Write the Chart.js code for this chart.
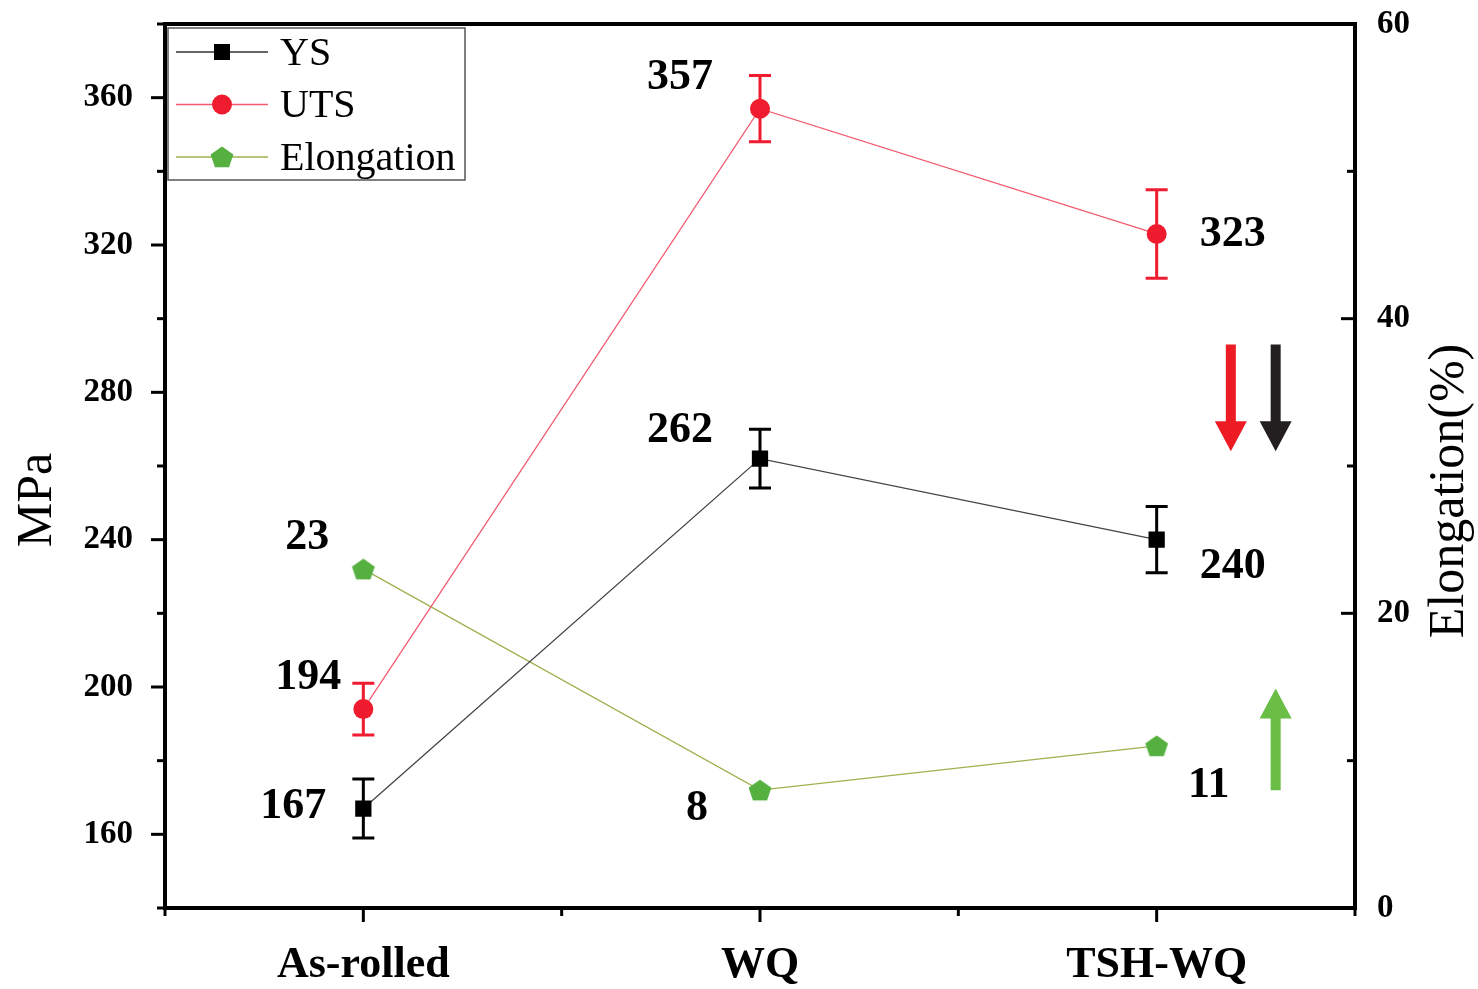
<!DOCTYPE html>
<html>
<head>
<meta charset="utf-8">
<script src="https://cdn.jsdelivr.net/npm/chart.js@4/dist/chart.umd.min.js"></script>
<style>
  html, body { margin: 0; padding: 0; background: #fff; }
  canvas { display: block; }
</style>
</head>
<body>
<canvas id="mech" width="1478" height="989"></canvas>
<script>
(function () {

// -------------------------------------------------------------------------------------------------------
// data

var categories = ["As-rolled", "WQ", "TSH-WQ"];
var ysValues   = [167, 262, 240];
var ysErrors   = [8, 8, 9];
var utsValues  = [194, 357, 323];
var utsErrors  = [7, 9, 12];
var elValues   = [23, 8, 11];

var leftTicks  = [160, 200, 240, 280, 320, 360];
var rightTicks = [0, 20, 40, 60];

// value label offsets (px from the point)
var ysLabelOff  = [[-70, -2], [-80, -28], [76, 27]];
var utsLabelOff = [[-55, -31], [-80, -31], [76, 1]];
var elLabelOff  = [[-56, -31], [-63, 19], [52, 40]];

// trend arrows: [series axis, category, fraction of category width, from value, to value, color]
var arrows = [
    ["y",  2, 0.187, 293, 264, "#ed1c24"],
    ["y",  2, 0.30,  293, 264, "#231f20"],
    ["y1", 2, 0.30,  8.0, 14.9, "#6abd45"]
];

var SERIF = "'Liberation Serif', 'Times New Roman', serif";

// -------------------------------------------------------------------------------------------------------

function pentagon(r, fill) {
    var c = document.createElement("canvas");
    c.width = c.height = r * 2 + 2;
    var g = c.getContext("2d");
    g.beginPath();
    for (var i = 0; i < 5; i++) {
        var a = -Math.PI / 2 + i * 2 * Math.PI / 5;
        var px = r + 1 + r * Math.cos(a), py = r + 1 + r * Math.sin(a) * 0.95 + 1;
        if (i === 0) g.moveTo(px, py); else g.lineTo(px, py);
    }
    g.closePath();
    g.fillStyle = fill;
    g.fill();
    return c;
}

var pentaImg = pentagon(12, "#55b040");

function noPad(s) {
    s.paddingTop = 0;
    s.paddingBottom = 0;
}

var framePlugin = {
    id: "frame",
    afterDraw: function (chart) {
        var ctx = chart.ctx, a = chart.chartArea;
        var x = chart.scales.x, y = chart.scales.y, y1 = chart.scales.y1;
        ctx.save();

        // error bars
        function errBars(vals, errs, color) {
            ctx.strokeStyle = color;
            ctx.lineWidth = 3;
            for (var i = 0; i < vals.length; i++) {
                var px = x.getPixelForValue(i);
                var t = y.getPixelForValue(vals[i] + errs[i]);
                var b = y.getPixelForValue(vals[i] - errs[i]);
                ctx.beginPath();
                ctx.moveTo(px, t); ctx.lineTo(px, b);
                ctx.moveTo(px - 11, t); ctx.lineTo(px + 11, t);
                ctx.moveTo(px - 11, b); ctx.lineTo(px + 11, b);
                ctx.stroke();
            }
        }
        errBars(utsValues, utsErrors, "#ee1c2e");
        errBars(ysValues, ysErrors, "#000");

        // frame
        ctx.fillStyle = "#000";
        ctx.fillRect(a.left - 2, a.top - 2, a.right - a.left + 4, 4);
        ctx.fillRect(a.left - 2, a.bottom - 2, a.right - a.left + 4, 4);
        ctx.fillRect(a.left - 2, a.top - 2, 4, a.bottom - a.top + 4);
        ctx.fillRect(a.right - 2, a.top - 2, 4, a.bottom - a.top + 4);

        // left ticks (outward)
        ctx.strokeStyle = "#000";
        ctx.lineWidth = 3;
        y.ticks.forEach(function (t) {
            var py = y.getPixelForValue(t.value);
            var len = (t.value % 40 === 0) ? 14 : 8;
            ctx.beginPath(); ctx.moveTo(a.left, py); ctx.lineTo(a.left - len, py); ctx.stroke();
        });
        // right ticks (inward)
        y1.ticks.forEach(function (t) {
            var py = y1.getPixelForValue(t.value);
            var len = (t.value % 20 === 0) ? 14 : 8;
            ctx.beginPath(); ctx.moveTo(a.right, py); ctx.lineTo(a.right - len, py); ctx.stroke();
        });
        // bottom ticks (outward)
        var half = (x.getPixelForValue(1) - x.getPixelForValue(0)) / 2;
        for (var i = 0; i < categories.length; i++) {
            var px = x.getPixelForValue(i);
            ctx.beginPath(); ctx.moveTo(px, a.bottom); ctx.lineTo(px, a.bottom + 14); ctx.stroke();
            ctx.beginPath(); ctx.moveTo(px - half, a.bottom); ctx.lineTo(px - half, a.bottom + 8); ctx.stroke();
            if (i === categories.length - 1) {
                ctx.beginPath(); ctx.moveTo(px + half, a.bottom); ctx.lineTo(px + half, a.bottom + 8); ctx.stroke();
            }
        }

        // value labels
        ctx.fillStyle = "#000";
        ctx.font = "bold 44px " + SERIF;
        ctx.textAlign = "center";
        ctx.textBaseline = "middle";
        function labels(vals, offs, scale) {
            for (var i = 0; i < vals.length; i++) {
                ctx.fillText(String(vals[i]),
                    x.getPixelForValue(i) + offs[i][0],
                    scale.getPixelForValue(vals[i]) + offs[i][1]);
            }
        }
        labels(ysValues, ysLabelOff, y);
        labels(utsValues, utsLabelOff, y);
        labels(elValues, elLabelOff, y1);

        // arrows
        var cw = x.getPixelForValue(1) - x.getPixelForValue(0);
        arrows.forEach(function (ar) {
            var sc = chart.scales[ar[0]];
            var ax = x.getPixelForValue(ar[1]) + ar[2] * cw;
            var y0 = sc.getPixelForValue(ar[3]), yE = sc.getPixelForValue(ar[4]);
            var dir = yE > y0 ? 1 : -1;
            var headLen = 30, headW = 16, shaft = 5;
            ctx.fillStyle = ar[5];
            ctx.beginPath();
            ctx.moveTo(ax - shaft, y0);
            ctx.lineTo(ax + shaft, y0);
            ctx.lineTo(ax + shaft, yE - dir * headLen);
            ctx.lineTo(ax + headW, yE - dir * headLen);
            ctx.lineTo(ax, yE);
            ctx.lineTo(ax - headW, yE - dir * headLen);
            ctx.lineTo(ax - shaft, yE - dir * headLen);
            ctx.closePath();
            ctx.fill();
        });

        // axis titles (bottom to top)
        ctx.fillStyle = "#000";
        ctx.font = "50px " + SERIF;
        ctx.save();
        ctx.translate(38, 500);
        ctx.rotate(-Math.PI / 2);
        ctx.fillText("MPa", 0, 0);
        ctx.restore();
        ctx.save();
        ctx.translate(1450, 491);
        ctx.rotate(-Math.PI / 2);
        ctx.fillText("Elongation(%)", 0, 0);
        ctx.restore();

        // legend
        ctx.lineWidth = 1.5;
        ctx.strokeStyle = "#555";
        ctx.strokeRect(168, 28, 297, 152);
        var items = [
            ["YS", "#333", "rect"],
            ["UTS", "#f25a70", "circle"],
            ["Elongation", "#9fb04e", "penta"]
        ];
        ctx.textAlign = "left";
        ctx.font = "40px " + SERIF;
        items.forEach(function (it, k) {
            var ly = 52 + k * 52.5;
            ctx.strokeStyle = it[1];
            ctx.lineWidth = 1.5;
            ctx.beginPath(); ctx.moveTo(176, ly); ctx.lineTo(268, ly); ctx.stroke();
            if (it[2] === "rect") {
                ctx.fillStyle = "#000";
                ctx.fillRect(214, ly - 8, 16, 16);
            } else if (it[2] === "circle") {
                ctx.fillStyle = "#ee1c2e";
                ctx.beginPath(); ctx.arc(222, ly, 10, 0, Math.PI * 2); ctx.fill();
            } else {
                ctx.drawImage(pentaImg, 222 - 13, ly - 13);
            }
            ctx.fillStyle = "#000";
            ctx.fillText(it[0], 280, ly + 2);
        });

        ctx.restore();
    }
};

window.mech_chart = function (canvasId) {
    try {
        var canvas = document.getElementById(canvasId);
        if (!canvas) return;
        var ctx = canvas.getContext("2d");

        return new Chart(ctx, {
            type: "line",
            data: {
                labels: categories,
                datasets: [{
                    label: "YS",
                    data: ysValues,
                    yAxisID: "y",
                    borderColor: "#444",
                    borderWidth: 1.3,
                    pointStyle: "rect",
                    pointRadius: 11.5,
                    pointBackgroundColor: "#000",
                    pointBorderWidth: 0
                }, {
                    label: "UTS",
                    data: utsValues,
                    yAxisID: "y",
                    borderColor: "#f25a70",
                    borderWidth: 1.3,
                    pointStyle: "circle",
                    pointRadius: 10,
                    pointBackgroundColor: "#ee1c2e",
                    pointBorderWidth: 0
                }, {
                    label: "Elongation",
                    data: elValues,
                    yAxisID: "y1",
                    borderColor: "#9fb04e",
                    borderWidth: 1.3,
                    pointStyle: pentaImg,
                    pointRadius: 12
                }]
            },
            options: {
                responsive: false,
                animation: false,
                layout: { padding: { top: 24, left: 0, right: 0, bottom: 0 } },
                plugins: {
                    legend: { display: false },
                    tooltip: { enabled: false }
                },
                scales: {
                    x: {
                        type: "category",
                        offset: true,
                        grid: { display: false },
                        border: { display: false },
                        ticks: {
                            color: "#000",
                            font: { family: SERIF, size: 44, weight: "bold" },
                            padding: 23
                        },
                        afterFit: function (s) { s.height = 81; s.paddingLeft = 0; s.paddingRight = 0; }
                    },
                    y: {
                        position: "left",
                        min: 140,
                        max: 380,
                        grid: { display: false },
                        border: { display: false },
                        ticks: {
                            stepSize: 20,
                            color: "#000",
                            font: { family: SERIF, size: 33, weight: "bold" },
                            padding: 24,
                            callback: function (v) { return leftTicks.indexOf(v) >= 0 ? v : ""; }
                        },
                        afterFit: function (s) { s.width = 165; noPad(s); }
                    },
                    y1: {
                        position: "right",
                        min: 0,
                        max: 60,
                        grid: { display: false },
                        border: { display: false },
                        ticks: {
                            stepSize: 10,
                            color: "#000",
                            font: { family: SERIF, size: 33, weight: "bold" },
                            padding: 14,
                            callback: function (v) { return rightTicks.indexOf(v) >= 0 ? v : ""; }
                        },
                        afterFit: function (s) { s.width = 123; noPad(s); }
                    }
                }
            },
            plugins: [framePlugin, {
                id: "bg",
                beforeDraw: function (c) {
                    c.ctx.save();
                    c.ctx.fillStyle = "#fff";
                    c.ctx.fillRect(0, 0, c.width, c.height);
                    c.ctx.restore();
                }
            }]
        });
    } catch (e) { console.log(e); }
};

window.mech_chart("mech");

})();
</script>
</body>
</html>
